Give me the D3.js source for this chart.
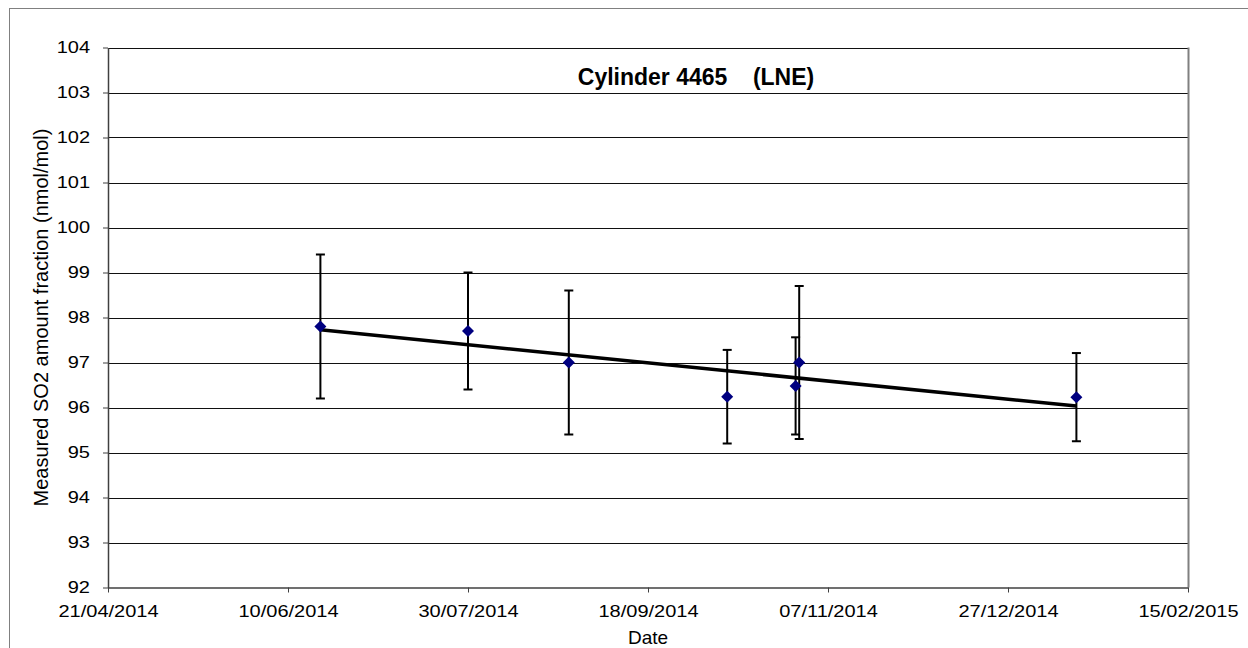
<!DOCTYPE html>
<html lang="en">
<head>
<meta charset="utf-8">
<script src="https://d3js.org/d3.v7.min.js"></script>
<style>
  body { margin: 0; background: #fff; }
  text { font-family: "Liberation Sans", Arial, sans-serif; fill: #000; }
</style>
</head>
<body>
<div id="chart"></div>
<script>
// measurement dates, values and expanded uncertainties
const dates = ["19/06/2014", "30/07/2014", "27/08/2014", "10/10/2014", "29/10/2014", "30/10/2014", "15/01/2015"];
const values = [97.8, 97.7, 97.0, 96.24, 96.48, 97.0, 96.23];
const uncert = [1.6, 1.3, 1.6, 1.04, 1.08, 1.7, 0.98];
const xTicks = ["21/04/2014", "10/06/2014", "30/07/2014", "18/09/2014", "07/11/2014", "27/12/2014", "15/02/2015"];
const yTicks = [92, 93, 94, 95, 96, 97, 98, 99, 100, 101, 102, 103, 104];

const W = 1248, H = 648;
const margin = { left: 108, top: 47.5, right: 60, bottom: 60.5 };
const stretch = 1.25; // tick labels are wider than tall in the original
const parse = d3.timeParse("%d/%m/%Y");
const fmt = d3.timeFormat("%d/%m/%Y");

const data = dates.map((d, i) => ({ date: parse(d), v: values[i], u: uncert[i] }));

const svg = d3.select("#chart").append("svg")
  .attr("width", W).attr("height", H);

// outer chart frame
svg.append("rect")
  .attr("x", 9.5).attr("y", 8.5).attr("width", W + 20).attr("height", H + 20)
  .attr("fill", "none").attr("stroke", "#808080").attr("stroke-width", 1);

const x = d3.scaleTime()
  .domain([parse(xTicks[0]), parse(xTicks[xTicks.length - 1])])
  .range([margin.left, W - margin.right]);
const y = d3.scaleLinear()
  .domain([92, 104])
  .range([H - margin.bottom, margin.top]);

// gridlines
svg.append("g").selectAll("line")
  .data(yTicks.slice(1))
  .join("line")
  .attr("x1", x.range()[0]).attr("x2", x.range()[1])
  .attr("y1", d => Math.round(y(d)) + 0.5).attr("y2", d => Math.round(y(d)) + 0.5)
  .attr("stroke", "#111").attr("stroke-width", 1);

// right border of plot area
svg.append("line")
  .attr("x1", x.range()[1] + 0.5).attr("x2", x.range()[1] + 0.5)
  .attr("y1", y(104)).attr("y2", y(92))
  .attr("stroke", "#808080").attr("stroke-width", 2);

// axes
const yAxis = svg.append("g")
  .attr("transform", `translate(${margin.left},0)`)
  .call(d3.axisLeft(y).tickValues(yTicks).tickSize(5).tickSizeOuter(0));
const xAxis = svg.append("g")
  .attr("transform", `translate(0,${H - margin.bottom})`)
  .call(d3.axisBottom(x).tickValues(xTicks.map(parse)).tickFormat(fmt).tickSize(5).tickSizeOuter(0).tickPadding(13));

[yAxis, xAxis].forEach(g => {
  g.select(".domain").attr("stroke", "#404040").attr("stroke-width", 1.5);
  g.selectAll(".tick line").attr("stroke", "#404040");
  g.selectAll("text")
    .style("font-size", "16px")
    .style("font-family", "'Liberation Sans', Arial, sans-serif")
    .attr("transform", `scale(${stretch},1)`);
});
yAxis.selectAll("text").attr("x", -18 / stretch);

// linear trend (least squares)
const xs = data.map(d => +d.date), ys = data.map(d => d.v);
const mx = d3.mean(xs), my = d3.mean(ys);
const slope = d3.sum(xs, (xi, i) => (xi - mx) * (ys[i] - my)) / d3.sum(xs, xi => (xi - mx) ** 2);
const fit = t => my + slope * (t - mx);
const first = d3.min(xs), last = d3.max(xs);

// error bars
const eb = svg.append("g").attr("stroke", "#000").attr("stroke-width", 2);
data.forEach(d => {
  const cx = x(d.date);
  eb.append("line").attr("x1", cx).attr("x2", cx).attr("y1", y(d.v + d.u)).attr("y2", y(d.v - d.u));
  eb.append("line").attr("x1", cx - 4.5).attr("x2", cx + 4.5).attr("y1", y(d.v + d.u)).attr("y2", y(d.v + d.u));
  eb.append("line").attr("x1", cx - 4.5).attr("x2", cx + 4.5).attr("y1", y(d.v - d.u)).attr("y2", y(d.v - d.u));
});

// trend line
svg.append("line")
  .attr("x1", x(first)).attr("y1", y(fit(first)))
  .attr("x2", x(last)).attr("y2", y(fit(last)))
  .attr("stroke", "#000").attr("stroke-width", 3.5);

// markers
svg.append("g").selectAll("path")
  .data(data)
  .join("path")
  .attr("transform", d => `translate(${x(d.date)},${y(d.v)})`)
  .attr("d", "M0,-6L6,0L0,6L-6,0Z")
  .attr("fill", "#000080");

// title
svg.append("text")
  .attr("x", 696).attr("y", 85)
  .attr("text-anchor", "middle")
  .style("font-size", "23px").style("font-weight", "bold")
  .attr("xml:space", "preserve")
  .text("Cylinder 4465    (LNE)");

// axis titles
svg.append("text")
  .attr("x", (x.range()[0] + x.range()[1]) / 2).attr("y", 644)
  .attr("text-anchor", "middle").style("font-size", "19px")
  .text("Date");
svg.append("text")
  .attr("transform", `translate(48,${(y(92) + y(104)) / 2}) rotate(-90)`)
  .attr("text-anchor", "middle").style("font-size", "20px")
  .text("Measured SO2 amount fraction (nmol/mol)");
</script>
</body>
</html>
